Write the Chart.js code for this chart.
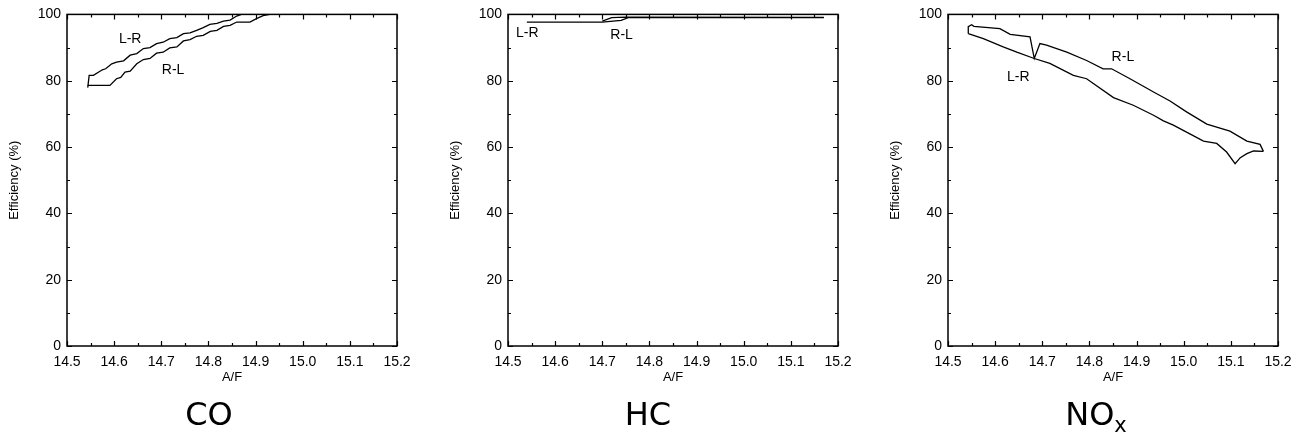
<!DOCTYPE html>
<html>
<head>
<meta charset="utf-8">
<script src="https://cdn.jsdelivr.net/npm/chart.js@4/dist/chart.umd.min.js"></script>
<style>
  html, body { margin:0; padding:0; background:#fff; }
  body { width:1304px; height:439px; position:relative; overflow:hidden; }
  canvas { position:absolute; top:0; }
  .ttl { position:absolute; top:398px; font-family:'DejaVu Sans', sans-serif; font-size:32px; line-height:32px; color:#000; transform:translateX(-50%); white-space:nowrap; }
  .ttl sub { font-size:21px; vertical-align:-7px; line-height:0; }
</style>
</head>
<body>
<canvas id="c0" width="420" height="400" style="left:0px"></canvas>
<canvas id="c1" width="420" height="400" style="left:441px"></canvas>
<canvas id="c2" width="420" height="400" style="left:881px"></canvas>
<div class="ttl" style="left:209px">CO</div>
<div class="ttl" style="left:648px">HC</div>
<div class="ttl" style="left:1096px">NO<sub>x</sub></div>
<script>
// ---- tick labels ----
const xTicks = [14.5, 14.6, 14.7, 14.8, 14.9, 15.0, 15.1, 15.2];
const yTicks = [0, 20, 40, 60, 80, 100];

// ---- CO ----
const coLR_af  = [14.544, 14.547, 14.556, 14.575, 14.582, 14.595, 14.605, 14.620, 14.634, 14.648, 14.662, 14.676, 14.690, 14.704, 14.718, 14.733, 14.747, 14.761, 14.775, 14.789, 14.803, 14.818, 14.832, 14.846, 14.860, 14.870, 14.930];
const coLR_eff = [77.9, 81.6, 81.6, 83.3, 83.6, 85.1, 85.6, 86.0, 87.7, 88.2, 89.7, 90.0, 91.2, 91.6, 92.7, 93.0, 94.2, 94.4, 95.2, 96.0, 97.0, 97.3, 98.0, 98.3, 99.5, 100, 100];
const coRL_af  = [14.930, 14.916, 14.902, 14.888, 14.860, 14.846, 14.832, 14.818, 14.804, 14.789, 14.775, 14.761, 14.747, 14.733, 14.718, 14.704, 14.690, 14.676, 14.662, 14.648, 14.634, 14.623, 14.614, 14.605, 14.591, 14.544];
const coRL_eff = [100, 99.6, 98.7, 97.7, 97.7, 96.7, 96.4, 95.2, 94.9, 93.7, 93.4, 92.4, 92.0, 90.2, 89.9, 88.6, 88.3, 86.7, 86.4, 85.1, 82.9, 82.6, 81.0, 80.6, 78.6, 78.6];

// ---- HC ----
const hcLR_af  = [14.54, 14.70, 14.74, 14.755, 15.17];
const hcLR_eff = [97.7, 97.7, 98.2, 99.0, 99.0];
const hcRL_af  = [15.17, 14.75, 14.72, 14.70];
const hcRL_eff = [99.1, 99.2, 99.0, 98.0];

// ---- NOx ----
const noLR_af  = [14.543, 14.575, 14.617, 14.646, 14.683, 14.716, 14.766, 14.794, 14.851, 14.893, 14.936, 14.957, 14.978, 15.006, 15.042, 15.070, 15.091, 15.109, 15.120, 15.134, 15.148, 15.169];
const noLR_eff = [94.2, 92.7, 90.2, 88.6, 86.7, 85.2, 81.6, 80.6, 74.9, 72.6, 69.6, 67.9, 66.6, 64.5, 61.8, 61.1, 58.5, 55.0, 56.8, 58.0, 58.8, 58.7];
const noRL_af  = [15.169, 15.162, 15.134, 15.098, 15.049, 15.006, 14.971, 14.936, 14.886, 14.847, 14.829, 14.794, 14.752, 14.709, 14.695, 14.683, 14.674, 14.632, 14.610, 14.555, 14.550, 14.543, 14.543];
const noRL_eff = [58.7, 60.8, 61.8, 64.8, 66.9, 70.6, 73.9, 76.6, 80.6, 83.6, 83.6, 86.1, 88.6, 90.7, 91.2, 86.7, 93.2, 94.0, 95.7, 96.4, 96.9, 96.3, 94.2];

Chart.defaults.font.family = "'Liberation Sans', Arial, sans-serif";
Chart.defaults.color = '#000';

function pts(xs, ys) { return xs.map((v, i) => ({ x: v, y: ys[i] })); }

const framePlugin = {
  id: 'frame',
  afterDatasetsDraw(chart, args, opts) {
    const { ctx, chartArea: a, scales: { x, y } } = chart;
    ctx.save();
    ctx.strokeStyle = '#000';
    ctx.lineWidth = 1.5;
    ctx.strokeRect(a.left, a.top, a.right - a.left, a.bottom - a.top);
    ctx.lineWidth = 1.2;
    ctx.beginPath();
    for (let i = 0; i < xTicks.length; i++) {
      const vals = [[xTicks[i], 5]];
      if (i < xTicks.length - 1) vals.push([(xTicks[i] + xTicks[i + 1]) / 2, 3]);
      vals.forEach(([v, L]) => {
        const px = Math.round(x.getPixelForValue(v)) + 0.5;
        ctx.moveTo(px, a.bottom); ctx.lineTo(px, a.bottom - L);
        ctx.moveTo(px, a.top); ctx.lineTo(px, a.top + L);
      });
    }
    for (let i = 0; i < yTicks.length; i++) {
      const vals = [[yTicks[i], 5]];
      if (i < yTicks.length - 1) vals.push([(yTicks[i] + yTicks[i + 1]) / 2, 3]);
      vals.forEach(([v, L]) => {
        const py = Math.round(y.getPixelForValue(v)) + 0.5;
        ctx.moveTo(a.left, py); ctx.lineTo(a.left + L, py);
        ctx.moveTo(a.right, py); ctx.lineTo(a.right - L, py);
      });
    }
    ctx.stroke();
    ctx.fillStyle = '#000';
    ctx.font = "14px 'Liberation Sans', Arial, sans-serif";
    ctx.textAlign = 'center';
    ctx.textBaseline = 'middle';
    (opts.labels || []).forEach(l => {
      ctx.fillText(l.t, x.getPixelForValue(l.x), y.getPixelForValue(l.y));
    });
    ctx.restore();
  }
};

function makeChart(id, lr, rl, labels) {
  const ds = (d) => ({
    data: d, showLine: true, borderColor: '#000', borderWidth: 1.3,
    pointRadius: 0, fill: false, tension: 0
  });
  return new Chart(document.getElementById(id), {
    type: 'scatter',
    data: { datasets: [ds(lr), ds(rl)] },
    options: {
      responsive: false, animation: false, devicePixelRatio: 1,
      layout: { padding: { top: 14, right: 23, bottom: 0, left: 0 } },
      plugins: { legend: { display: false }, tooltip: { enabled: false }, frame: { labels } },
      scales: {
        x: {
          type: 'linear', min: 14.5, max: 15.2,
          afterBuildTicks: (s) => { s.ticks = xTicks.map(v => ({ value: v })); },
          ticks: { callback: (v) => Number(v).toFixed(1), font: { size: 14 }, padding: 8, maxRotation: 0, autoSkip: false },
          grid: { display: false, drawTicks: false },
          border: { display: false },
          title: { display: true, text: 'A/F', font: { size: 13 }, padding: { top: 0, bottom: 15 } },
          afterFit: (s) => { s.height = 54; }
        },
        y: {
          type: 'linear', min: 0, max: 100,
          afterBuildTicks: (s) => { s.ticks = yTicks.map(v => ({ value: v })); },
          ticks: { font: { size: 14 }, padding: 6 },
          grid: { display: false, drawTicks: false },
          border: { display: false },
          title: { display: true, text: 'Efficiency (%)', font: { size: 13 }, padding: { top: 7, bottom: 0 } },
          afterFit: (s) => { s.width = 67; }
        }
      }
    },
    plugins: [framePlugin]
  });
}

makeChart('c0', pts(coLR_af, coLR_eff), pts(coRL_af, coRL_eff),
  [{ t: 'L-R', x: 14.634, y: 92.4 }, { t: 'R-L', x: 14.725, y: 83.1 }]);
makeChart('c1', pts(hcLR_af, hcLR_eff), pts(hcRL_af, hcRL_eff),
  [{ t: 'L-R', x: 14.541, y: 94.2 }, { t: 'R-L', x: 14.741, y: 93.7 }]);
makeChart('c2', pts(noLR_af, noLR_eff), pts(noRL_af, noRL_eff),
  [{ t: 'L-R', x: 14.649, y: 81.1 }, { t: 'R-L', x: 14.871, y: 87.1 }]);
</script>
</body>
</html>
